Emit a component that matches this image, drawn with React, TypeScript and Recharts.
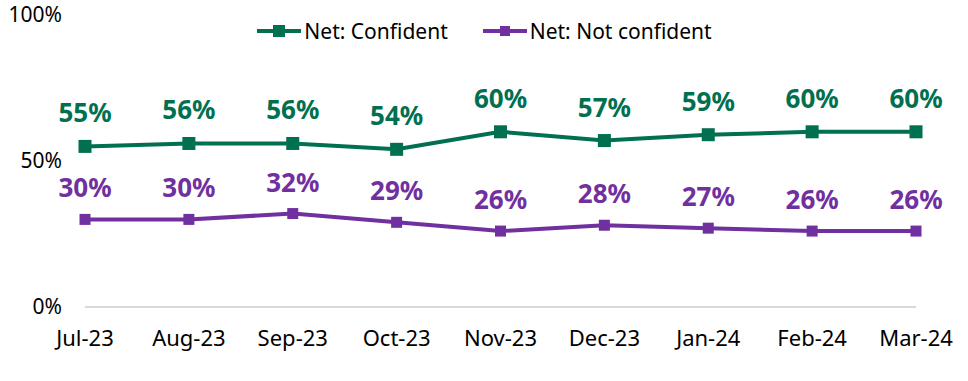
import React from "react";
import { LineChart, Line, XAxis, YAxis, LabelList, ReferenceLine } from "recharts";

const months = ["Jul-23", "Aug-23", "Sep-23", "Oct-23", "Nov-23", "Dec-23", "Jan-24", "Feb-24", "Mar-24"];
const confident = [55, 56, 56, 54, 60, 57, 59, 60, 60];
const notConfident = [30, 30, 32, 29, 26, 28, 27, 26, 26];
const yTicks = [0, 50, 100];

const GREEN = "#007050";
const PURPLE = "#7030A0";
const FONT = "'Noto Sans', sans-serif";

const data = months.map((m, i) => ({
  month: m,
  confident: confident[i],
  notConfident: notConfident[i],
}));

const SquareDot = (size: number, color: string) => (props: { cx?: number; cy?: number; index?: number }) => {
  const { cx = 0, cy = 0, index } = props;
  return <rect key={index} x={cx - size / 2} y={cy - size / 2} width={size} height={size} fill={color} />;
};

const LegendItem = ({ color, label, size }: { color: string; label: string; size: number }) => (
  <div style={{ display: "flex", alignItems: "center", marginRight: 34 }}>
    <svg width={46} height={14} style={{ marginRight: 2 }}>
      <line x1={1} y1={7} x2={45} y2={7} stroke={color} strokeWidth={4} />
      <rect x={23 - size / 2} y={7 - size / 2} width={size} height={size} fill={color} />
    </svg>
    <span>{label}</span>
  </div>
);

export default function App() {
  return (
    <div style={{ position: "fixed", top: 0, left: 0, width: 968, height: 381, background: "#fff", fontFamily: FONT }}>
      <div
        style={{
          position: "absolute",
          top: 17,
          left: 0,
          width: 968,
          display: "flex",
          justifyContent: "center",
          fontSize: 21,
          color: "#000",
          paddingLeft: 34,
          boxSizing: "border-box",
        }}
      >
        <LegendItem color={GREEN} label="Net: Confident" size={12} />
        <LegendItem color={PURPLE} label="Net: Not confident" size={10} />
      </div>
      <LineChart width={968} height={381} data={data} margin={{ top: 15, right: 52, left: 0, bottom: 44 }}>
        <XAxis
          dataKey="month"
          axisLine={false}
          tickLine={false}
          tickMargin={17}
          tick={{ fill: "#000", fontSize: 22, fontFamily: FONT }}
          padding={{ left: 0, right: 0 }}
          interval={0}
        />
        <YAxis
          domain={[0, 100]}
          ticks={yTicks}
          width={85}
          axisLine={false}
          tickLine={false}
          tickMargin={17}
          tickFormatter={(v) => `${v}%`}
          tick={{ fill: "#000", fontSize: 21, fontFamily: FONT }}
        />
        <ReferenceLine y={0} stroke="#d9d9d9" strokeWidth={2} />
        <Line
          dataKey="confident"
          stroke={GREEN}
          strokeWidth={4}
          dot={SquareDot(13, GREEN)}
          activeDot={false}
          isAnimationActive={false}
        >
          <LabelList
            dataKey="confident"
            position="top"
            offset={24}
            formatter={(v: number) => `${v}%`}
            style={{ fill: GREEN, fontSize: 26, fontWeight: 700, fontFamily: FONT }}
          />
        </Line>
        <Line
          dataKey="notConfident"
          stroke={PURPLE}
          strokeWidth={4}
          dot={SquareDot(11, PURPLE)}
          activeDot={false}
          isAnimationActive={false}
        >
          <LabelList
            dataKey="notConfident"
            position="top"
            offset={22}
            formatter={(v: number) => `${v}%`}
            style={{ fill: PURPLE, fontSize: 26, fontWeight: 700, fontFamily: FONT }}
          />
        </Line>
      </LineChart>
    </div>
  );
}
